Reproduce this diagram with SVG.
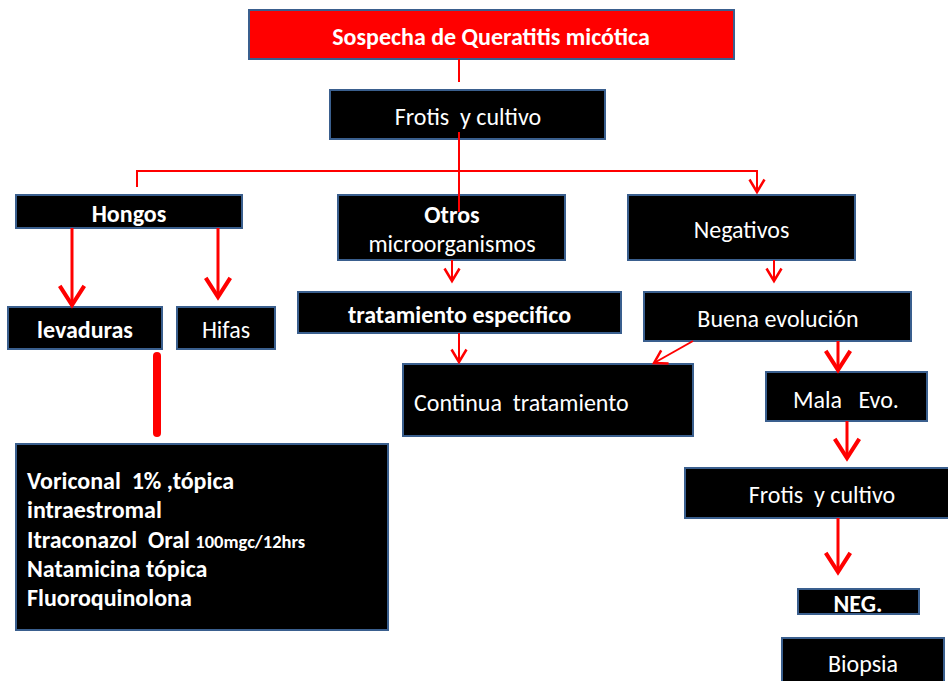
<svg xmlns="http://www.w3.org/2000/svg" width="948" height="681" viewBox="0 0 948 681">
<defs>
<style>
.box{fill:#000;stroke:#3a5f8e;stroke-width:2}
.tbox{fill:#ff0000;stroke:#3a5f8e;stroke-width:2}
text{font-family:Carlito,Lato,"Open Sans",sans-serif;fill:#fff;font-size:24px;white-space:pre}
.b{font-weight:bold}
.c{text-anchor:middle}
.ln{fill:none;stroke:#ff0000;stroke-width:2}
.lt{fill:none;stroke:#ff0000;stroke-width:3}
</style>
<marker id="as" markerUnits="userSpaceOnUse" markerWidth="20" markerHeight="20" viewBox="-12 -8 14 16" refX="0" refY="0" orient="auto" overflow="visible">
<path d="M-10,-6 L0,0 L-10,6" fill="none" stroke="#ff0000" stroke-width="2"/>
</marker>
<marker id="al" markerUnits="userSpaceOnUse" markerWidth="30" markerHeight="30" viewBox="-16 -11 18 22" refX="0" refY="0" orient="auto" overflow="visible">
<path d="M-14,-9 L0,0 L-14,9" fill="none" stroke="#ff0000" stroke-width="3"/>
</marker>
</defs>
<rect width="948" height="681" fill="#fff"/>

<g id="n-sospecha"><rect class="tbox" x="249" y="10" width="485" height="49"/><text class="b c" x="491" y="45">Sospecha de Queratitis micótica</text></g>
<g id="n-frotis1"><rect class="box" x="330" y="90" width="275" height="49"/><text class="c" x="468" y="125">Frotis  y cultivo</text></g>
<g id="n-hongos"><rect class="box" x="16" y="195" width="226" height="33"/><text class="b c" x="129" y="222">Hongos</text></g>
<g id="n-levaduras"><rect class="box" x="8" y="307" width="154" height="42"/><text class="b c" x="85" y="338">levaduras</text></g>
<g id="n-hifas"><rect class="box" x="177" y="307" width="98" height="42"/><text class="c" x="226" y="338">Hifas</text></g>
<g id="n-tratamiento-hongos"><rect class="box" x="16" y="444" width="372" height="186"/>
<text class="b" x="27" y="489">Voriconal  1% ,tópica</text>
<text class="b" x="27" y="518">intraestromal</text>
<text class="b" x="27" y="548">Itraconazol  Oral <tspan font-size="18.5">100mgc/12hrs</tspan></text>
<text class="b" x="27" y="577">Natamicina tópica</text>
<text class="b" x="27" y="606">Fluoroquinolona</text>
</g>
<g id="n-otros"><rect class="box" x="338" y="195" width="227" height="65"/><text class="b c" x="452" y="223">Otros</text><text class="c" x="452" y="252">microorganismos</text></g>
<g id="n-tratamiento-esp"><rect class="box" x="298" y="292" width="323" height="41"/><text class="b c" x="459.5" y="323">tratamiento especifico</text></g>
<g id="n-continua"><rect class="box" x="403" y="364" width="290" height="72"/><text x="414" y="411">Continua  tratamiento</text></g>
<g id="n-negativos"><rect class="box" x="628" y="195" width="227" height="65"/><text class="c" x="741.5" y="238">Negativos</text></g>
<g id="n-buena"><rect class="box" x="644" y="292" width="267" height="49"/><text class="c" x="778" y="327">Buena evolución</text></g>
<g id="n-mala"><rect class="box" x="766" y="372" width="161" height="49"/><text class="c" x="846" y="408">Mala   Evo.</text></g>
<g id="n-frotis2"><rect class="box" x="685" y="468" width="265" height="50"/><text class="c" x="822" y="503">Frotis  y cultivo</text></g>
<g id="n-neg"><rect class="box" x="798" y="589" width="121" height="25"/><text class="b c" x="858" y="612">NEG.</text></g>
<g id="n-biopsia"><rect class="box" x="782" y="638" width="162" height="50"/><text class="c" x="863" y="672">Biopsia</text></g>

<g id="connectors">
<line class="ln" x1="459" y1="59" x2="459" y2="82"/>
<line class="ln" x1="459" y1="132" x2="459" y2="212"/>
<polyline class="ln" points="137,187 137,171 757,171 757,192" marker-end="url(#as)"/>
<line class="lt" x1="72" y1="228" x2="72" y2="305" marker-end="url(#al)"/>
<line class="lt" x1="218" y1="228" x2="218" y2="297" marker-end="url(#al)"/>
<line x1="157" y1="356" x2="157" y2="433" stroke="#ff0000" stroke-width="8" stroke-linecap="round"/>
<line class="ln" x1="452" y1="260" x2="452" y2="281" marker-end="url(#as)"/>
<line class="ln" x1="459" y1="333" x2="459" y2="362" marker-end="url(#as)"/>
<line class="ln" x1="774" y1="260" x2="774" y2="281" marker-end="url(#as)"/>
<line class="ln" x1="693" y1="341" x2="654" y2="363" marker-end="url(#as)"/>
<line class="lt" x1="838" y1="341" x2="838" y2="370" marker-end="url(#al)"/>
<line class="lt" x1="847" y1="421" x2="847" y2="458" marker-end="url(#al)"/>
<line class="lt" x1="838" y1="518" x2="838" y2="572" marker-end="url(#al)"/>
</g>
</svg>
